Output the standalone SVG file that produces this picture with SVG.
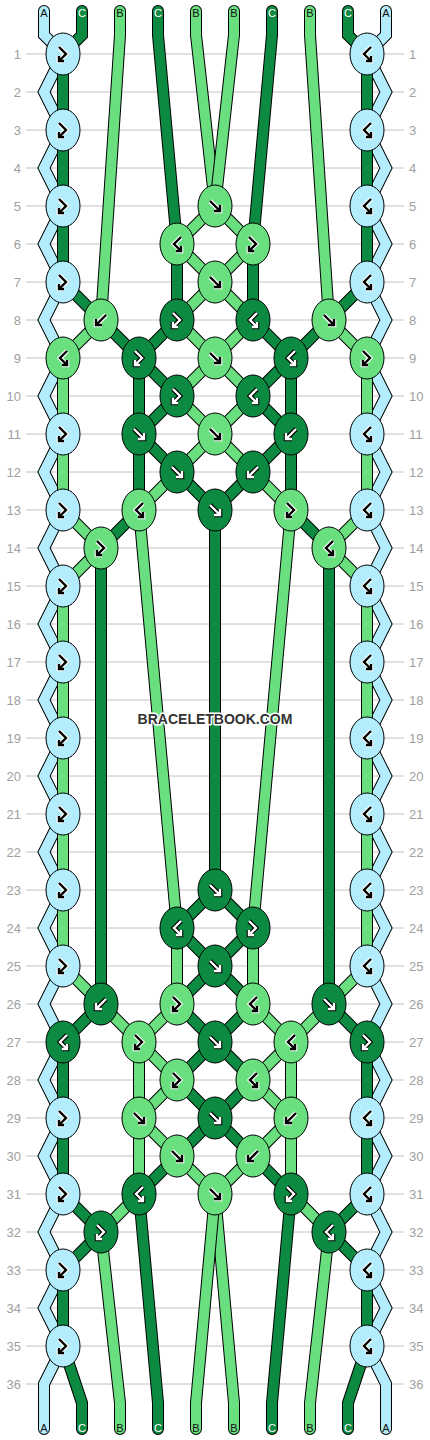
<svg xmlns="http://www.w3.org/2000/svg" width="430" height="1440" viewBox="0 0 430 1440">
<style>
.grid{stroke:#c2c2c2;stroke-width:1;fill:none}
.num{font-family:"Liberation Sans",Arial,sans-serif;font-size:13px;fill:#a0a0a0}
.nl{text-anchor:end}
.lab{font-family:"Liberation Sans",Arial,sans-serif;font-size:11px;text-anchor:middle}
.ld{fill:#111}.lw{fill:#fff}
.so{fill:none;stroke:#000;stroke-width:12;stroke-linecap:round;stroke-linejoin:miter}
.sc{fill:none;stroke-width:10;stroke-linecap:round;stroke-linejoin:miter}
.cA{stroke:#b3ecfc}.cB{stroke:#69df80}.cC{stroke:#0d8a42}
.kA{fill:#b3ecfc;stroke:#000;stroke-width:1}
.kB{fill:#69df80;stroke:#000;stroke-width:1}
.kC{fill:#0d8a42;stroke:#000;stroke-width:1}
.ow{fill:none;stroke:#fff;stroke-width:4.6;stroke-linejoin:miter}
.ob{fill:none;stroke:#000;stroke-width:4.6;stroke-linejoin:miter}
.ib{fill:none;stroke:#000;stroke-width:2.4;stroke-linejoin:miter}
.iw{fill:none;stroke:#fff;stroke-width:2.4;stroke-linejoin:miter}
.wm{font-family:"Liberation Sans",Arial,sans-serif;font-size:14px;font-weight:bold;fill:#333;text-anchor:middle;stroke:#fff;stroke-width:3;paint-order:stroke;stroke-linejoin:round}
</style>
<defs>
<path id="p-f" d="M-5,-5L5,5M-1,5H5V-1"/>
<path id="p-b" d="M5,-5L-5,5M1,5H-5V-1"/>
<path id="p-fb" d="M-4,-7L3,0L-4,7M1,7H-4V2"/>
<path id="p-bf" d="M4,-7L-3,0L4,7M-1,7H4V2"/>
<g id="k-f"><use href="#p-f" class="ow"/><use href="#p-f" class="ib"/></g>
<g id="k-b"><use href="#p-b" class="ow"/><use href="#p-b" class="ib"/></g>
<g id="k-fb"><use href="#p-fb" class="ow"/><use href="#p-fb" class="ib"/></g>
<g id="k-bf"><use href="#p-bf" class="ow"/><use href="#p-bf" class="ib"/></g>
<g id="w-f"><use href="#p-f" class="ob"/><use href="#p-f" class="iw"/></g>
<g id="w-b"><use href="#p-b" class="ob"/><use href="#p-b" class="iw"/></g>
<g id="w-fb"><use href="#p-fb" class="ob"/><use href="#p-fb" class="iw"/></g>
<g id="w-bf"><use href="#p-bf" class="ob"/><use href="#p-bf" class="iw"/></g>
</defs>
<rect width="430" height="1440" fill="#fff"/>
<g id="grid">
<path class="grid" d="M26,54H404M26,92H404M26,130H404M26,168H404M26,206H404M26,244H404M26,282H404M26,320H404M26,358H404M26,396H404M26,434H404M26,472H404M26,510H404M26,548H404M26,586H404M26,624H404M26,662H404M26,700H404M26,738H404M26,776H404M26,814H404M26,852H404M26,890H404M26,928H404M26,966H404M26,1004H404M26,1042H404M26,1080H404M26,1118H404M26,1156H404M26,1194H404M26,1232H404M26,1270H404M26,1308H404M26,1346H404M26,1384H404"/>
</g>
<g id="rownumbers-left" class="num nl">
<text x="21" y="58.5">1</text><text x="21" y="96.5">2</text><text x="21" y="134.5">3</text><text x="21" y="172.5">4</text><text x="21" y="210.5">5</text><text x="21" y="248.5">6</text><text x="21" y="286.5">7</text><text x="21" y="324.5">8</text><text x="21" y="362.5">9</text><text x="21" y="400.5">10</text><text x="21" y="438.5">11</text><text x="21" y="476.5">12</text><text x="21" y="514.5">13</text><text x="21" y="552.5">14</text><text x="21" y="590.5">15</text><text x="21" y="628.5">16</text><text x="21" y="666.5">17</text><text x="21" y="704.5">18</text><text x="21" y="742.5">19</text><text x="21" y="780.5">20</text><text x="21" y="818.5">21</text><text x="21" y="856.5">22</text><text x="21" y="894.5">23</text><text x="21" y="932.5">24</text><text x="21" y="970.5">25</text><text x="21" y="1008.5">26</text><text x="21" y="1046.5">27</text><text x="21" y="1084.5">28</text><text x="21" y="1122.5">29</text><text x="21" y="1160.5">30</text><text x="21" y="1198.5">31</text><text x="21" y="1236.5">32</text><text x="21" y="1274.5">33</text><text x="21" y="1312.5">34</text><text x="21" y="1350.5">35</text><text x="21" y="1388.5">36</text>
</g>
<g id="rownumbers-right" class="num">
<text x="409" y="58.5">1</text><text x="409" y="96.5">2</text><text x="409" y="134.5">3</text><text x="409" y="172.5">4</text><text x="409" y="210.5">5</text><text x="409" y="248.5">6</text><text x="409" y="286.5">7</text><text x="409" y="324.5">8</text><text x="409" y="362.5">9</text><text x="409" y="400.5">10</text><text x="409" y="438.5">11</text><text x="409" y="476.5">12</text><text x="409" y="514.5">13</text><text x="409" y="552.5">14</text><text x="409" y="590.5">15</text><text x="409" y="628.5">16</text><text x="409" y="666.5">17</text><text x="409" y="704.5">18</text><text x="409" y="742.5">19</text><text x="409" y="780.5">20</text><text x="409" y="818.5">21</text><text x="409" y="856.5">22</text><text x="409" y="894.5">23</text><text x="409" y="932.5">24</text><text x="409" y="970.5">25</text><text x="409" y="1008.5">26</text><text x="409" y="1046.5">27</text><text x="409" y="1084.5">28</text><text x="409" y="1122.5">29</text><text x="409" y="1160.5">30</text><text x="409" y="1198.5">31</text><text x="409" y="1236.5">32</text><text x="409" y="1274.5">33</text><text x="409" y="1312.5">34</text><text x="409" y="1350.5">35</text><text x="409" y="1388.5">36</text>
</g>
<g id="connectors">
<g id="s0"><polyline class="so" points="44,11 44,35 63,54 44,92 63,130 44,168 63,206 44,244 63,282 44,320 63,358 44,396 63,434 44,472 63,510 44,548 63,586 44,624 63,662 44,700 63,738 44,776 63,814 44,852 63,890 44,928 63,966 44,1004 63,1042 44,1080 63,1118 44,1156 63,1194 44,1232 63,1270 44,1308 63,1346 44,1384 44,1429"/><polyline class="sc cA" points="44,11 44,35 63,54 44,92 63,130 44,168 63,206 44,244 63,282 44,320 63,358 44,396 63,434 44,472 63,510 44,548 63,586 44,624 63,662 44,700 63,738 44,776 63,814 44,852 63,890 44,928 63,966 44,1004 63,1042 44,1080 63,1118 44,1156 63,1194 44,1232 63,1270 44,1308 63,1346 44,1384 44,1429"/></g>
<g id="s9"><polyline class="so" points="386,11 386,35 367,54 386,92 367,130 386,168 367,206 386,244 367,282 386,320 367,358 386,396 367,434 386,472 367,510 386,548 367,586 386,624 367,662 386,700 367,738 386,776 367,814 386,852 367,890 386,928 367,966 386,1004 367,1042 386,1080 367,1118 386,1156 367,1194 386,1232 367,1270 386,1308 367,1346 386,1384 386,1429"/><polyline class="sc cA" points="386,11 386,35 367,54 386,92 367,130 386,168 367,206 386,244 367,282 386,320 367,358 386,396 367,434 386,472 367,510 386,548 367,586 386,624 367,662 386,700 367,738 386,776 367,814 386,852 367,890 386,928 367,966 386,1004 367,1042 386,1080 367,1118 386,1156 367,1194 386,1232 367,1270 386,1308 367,1346 386,1384 386,1429"/></g>
<g id="s1"><polyline class="so" points="82,11 82,35 63,54 63,282 101,320 139,358 139,434 177,472 215,510 215,890 177,928 215,966 253,1004 215,1042 177,1080 215,1118 253,1156 291,1194 272,1403 272,1429"/><polyline class="sc cC" points="82,11 82,35 63,54 63,282 101,320 139,358 139,434 177,472 215,510 215,890 177,928 215,966 253,1004 215,1042 177,1080 215,1118 253,1156 291,1194 272,1403 272,1429"/></g>
<g id="s8"><polyline class="so" points="348,11 348,35 367,54 367,282 329,320 291,358 291,434 253,472 215,510 215,890 253,928 215,966 177,1004 215,1042 253,1080 215,1118 177,1156 139,1194 158,1403 158,1429"/><polyline class="sc cC" points="348,11 348,35 367,54 367,282 329,320 291,358 291,434 253,472 215,510 215,890 253,928 215,966 177,1004 215,1042 253,1080 215,1118 177,1156 139,1194 158,1403 158,1429"/></g>
<g id="s2"><polyline class="so" points="120,11 120,35 101,320 63,358 63,510 101,548 63,586 63,966 101,1004 139,1042 139,1118 177,1156 215,1194 234,1403 234,1429"/><polyline class="sc cB" points="120,11 120,35 101,320 63,358 63,510 101,548 63,586 63,966 101,1004 139,1042 139,1118 177,1156 215,1194 234,1403 234,1429"/></g>
<g id="s7"><polyline class="so" points="310,11 310,35 329,320 367,358 367,510 329,548 367,586 367,966 329,1004 291,1042 291,1118 253,1156 215,1194 196,1403 196,1429"/><polyline class="sc cB" points="310,11 310,35 329,320 367,358 367,510 329,548 367,586 367,966 329,1004 291,1042 291,1118 253,1156 215,1194 196,1403 196,1429"/></g>
<g id="s3"><polyline class="so" points="158,11 158,35 177,244 177,320 139,358 177,396 139,434 139,510 101,548 101,1004 63,1042 63,1194 101,1232 63,1270 63,1346 82,1403 82,1429"/><polyline class="sc cC" points="158,11 158,35 177,244 177,320 139,358 177,396 139,434 139,510 101,548 101,1004 63,1042 63,1194 101,1232 63,1270 63,1346 82,1403 82,1429"/></g>
<g id="s6"><polyline class="so" points="272,11 272,35 253,244 253,320 291,358 253,396 291,434 291,510 329,548 329,1004 367,1042 367,1194 329,1232 367,1270 367,1346 348,1403 348,1429"/><polyline class="sc cC" points="272,11 272,35 253,244 253,320 291,358 253,396 291,434 291,510 329,548 329,1004 367,1042 367,1194 329,1232 367,1270 367,1346 348,1403 348,1429"/></g>
<g id="s4"><polyline class="so" points="196,11 196,35 215,206 253,244 215,282 177,320 215,358 253,396 215,434 177,472 139,510 177,928 177,1004 139,1042 177,1080 139,1118 139,1194 101,1232 120,1403 120,1429"/><polyline class="sc cB" points="196,11 196,35 215,206 253,244 215,282 177,320 215,358 253,396 215,434 177,472 139,510 177,928 177,1004 139,1042 177,1080 139,1118 139,1194 101,1232 120,1403 120,1429"/></g>
<g id="s5"><polyline class="so" points="234,11 234,35 215,206 177,244 215,282 253,320 215,358 177,396 215,434 253,472 291,510 253,928 253,1004 291,1042 253,1080 291,1118 291,1194 329,1232 310,1403 310,1429"/><polyline class="sc cB" points="234,11 234,35 215,206 177,244 215,282 253,320 215,358 177,396 215,434 253,472 291,510 253,928 253,1004 291,1042 253,1080 291,1118 291,1194 329,1232 310,1403 310,1429"/></g>
</g>
<g id="labels-top">
<text class="lab ld" x="44" y="17">A</text><text class="lab lw" x="82" y="17">C</text><text class="lab ld" x="120" y="17">B</text><text class="lab lw" x="158" y="17">C</text><text class="lab ld" x="196" y="17">B</text><text class="lab ld" x="234" y="17">B</text><text class="lab lw" x="272" y="17">C</text><text class="lab ld" x="310" y="17">B</text><text class="lab lw" x="348" y="17">C</text><text class="lab ld" x="386" y="17">A</text>
</g>
<g id="labels-bottom">
<text class="lab ld" x="44" y="1432">A</text><text class="lab lw" x="82" y="1432">C</text><text class="lab ld" x="120" y="1432">B</text><text class="lab lw" x="158" y="1432">C</text><text class="lab ld" x="196" y="1432">B</text><text class="lab ld" x="234" y="1432">B</text><text class="lab lw" x="272" y="1432">C</text><text class="lab ld" x="310" y="1432">B</text><text class="lab lw" x="348" y="1432">C</text><text class="lab ld" x="386" y="1432">A</text>
</g>
<g id="knots">
<g id="k1-0" transform="translate(63,54)"><ellipse class="kA" rx="17" ry="21"/><use href="#k-fb"/></g>
<g id="k1-4" transform="translate(367,54)"><ellipse class="kA" rx="17" ry="21"/><use href="#k-bf"/></g>
<g id="k3-0" transform="translate(63,130)"><ellipse class="kA" rx="17" ry="21"/><use href="#k-fb"/></g>
<g id="k3-4" transform="translate(367,130)"><ellipse class="kA" rx="17" ry="21"/><use href="#k-bf"/></g>
<g id="k5-0" transform="translate(63,206)"><ellipse class="kA" rx="17" ry="21"/><use href="#k-fb"/></g>
<g id="k5-2" transform="translate(215,206)"><ellipse class="kB" rx="17" ry="21"/><use href="#k-f"/></g>
<g id="k5-4" transform="translate(367,206)"><ellipse class="kA" rx="17" ry="21"/><use href="#k-bf"/></g>
<g id="k6-1" transform="translate(177,244)"><ellipse class="kB" rx="17" ry="21"/><use href="#k-bf"/></g>
<g id="k6-2" transform="translate(253,244)"><ellipse class="kB" rx="17" ry="21"/><use href="#k-fb"/></g>
<g id="k7-0" transform="translate(63,282)"><ellipse class="kA" rx="17" ry="21"/><use href="#k-fb"/></g>
<g id="k7-2" transform="translate(215,282)"><ellipse class="kB" rx="17" ry="21"/><use href="#k-f"/></g>
<g id="k7-4" transform="translate(367,282)"><ellipse class="kA" rx="17" ry="21"/><use href="#k-bf"/></g>
<g id="k8-0" transform="translate(101,320)"><ellipse class="kB" rx="17" ry="21"/><use href="#k-b"/></g>
<g id="k8-1" transform="translate(177,320)"><ellipse class="kC" rx="17" ry="21"/><use href="#w-fb"/></g>
<g id="k8-2" transform="translate(253,320)"><ellipse class="kC" rx="17" ry="21"/><use href="#w-bf"/></g>
<g id="k8-3" transform="translate(329,320)"><ellipse class="kB" rx="17" ry="21"/><use href="#k-f"/></g>
<g id="k9-0" transform="translate(63,358)"><ellipse class="kB" rx="17" ry="21"/><use href="#k-bf"/></g>
<g id="k9-1" transform="translate(139,358)"><ellipse class="kC" rx="17" ry="21"/><use href="#w-fb"/></g>
<g id="k9-2" transform="translate(215,358)"><ellipse class="kB" rx="17" ry="21"/><use href="#k-f"/></g>
<g id="k9-3" transform="translate(291,358)"><ellipse class="kC" rx="17" ry="21"/><use href="#w-bf"/></g>
<g id="k9-4" transform="translate(367,358)"><ellipse class="kB" rx="17" ry="21"/><use href="#k-fb"/></g>
<g id="k10-1" transform="translate(177,396)"><ellipse class="kC" rx="17" ry="21"/><use href="#w-fb"/></g>
<g id="k10-2" transform="translate(253,396)"><ellipse class="kC" rx="17" ry="21"/><use href="#w-bf"/></g>
<g id="k11-0" transform="translate(63,434)"><ellipse class="kA" rx="17" ry="21"/><use href="#k-fb"/></g>
<g id="k11-1" transform="translate(139,434)"><ellipse class="kC" rx="17" ry="21"/><use href="#w-f"/></g>
<g id="k11-2" transform="translate(215,434)"><ellipse class="kB" rx="17" ry="21"/><use href="#k-f"/></g>
<g id="k11-3" transform="translate(291,434)"><ellipse class="kC" rx="17" ry="21"/><use href="#w-b"/></g>
<g id="k11-4" transform="translate(367,434)"><ellipse class="kA" rx="17" ry="21"/><use href="#k-bf"/></g>
<g id="k12-1" transform="translate(177,472)"><ellipse class="kC" rx="17" ry="21"/><use href="#w-f"/></g>
<g id="k12-2" transform="translate(253,472)"><ellipse class="kC" rx="17" ry="21"/><use href="#w-b"/></g>
<g id="k13-0" transform="translate(63,510)"><ellipse class="kA" rx="17" ry="21"/><use href="#k-fb"/></g>
<g id="k13-1" transform="translate(139,510)"><ellipse class="kB" rx="17" ry="21"/><use href="#k-bf"/></g>
<g id="k13-2" transform="translate(215,510)"><ellipse class="kC" rx="17" ry="21"/><use href="#w-f"/></g>
<g id="k13-3" transform="translate(291,510)"><ellipse class="kB" rx="17" ry="21"/><use href="#k-fb"/></g>
<g id="k13-4" transform="translate(367,510)"><ellipse class="kA" rx="17" ry="21"/><use href="#k-bf"/></g>
<g id="k14-0" transform="translate(101,548)"><ellipse class="kB" rx="17" ry="21"/><use href="#k-fb"/></g>
<g id="k14-3" transform="translate(329,548)"><ellipse class="kB" rx="17" ry="21"/><use href="#k-bf"/></g>
<g id="k15-0" transform="translate(63,586)"><ellipse class="kA" rx="17" ry="21"/><use href="#k-fb"/></g>
<g id="k15-4" transform="translate(367,586)"><ellipse class="kA" rx="17" ry="21"/><use href="#k-bf"/></g>
<g id="k17-0" transform="translate(63,662)"><ellipse class="kA" rx="17" ry="21"/><use href="#k-fb"/></g>
<g id="k17-4" transform="translate(367,662)"><ellipse class="kA" rx="17" ry="21"/><use href="#k-bf"/></g>
<g id="k19-0" transform="translate(63,738)"><ellipse class="kA" rx="17" ry="21"/><use href="#k-fb"/></g>
<g id="k19-4" transform="translate(367,738)"><ellipse class="kA" rx="17" ry="21"/><use href="#k-bf"/></g>
<g id="k21-0" transform="translate(63,814)"><ellipse class="kA" rx="17" ry="21"/><use href="#k-fb"/></g>
<g id="k21-4" transform="translate(367,814)"><ellipse class="kA" rx="17" ry="21"/><use href="#k-bf"/></g>
<g id="k23-0" transform="translate(63,890)"><ellipse class="kA" rx="17" ry="21"/><use href="#k-fb"/></g>
<g id="k23-2" transform="translate(215,890)"><ellipse class="kC" rx="17" ry="21"/><use href="#w-f"/></g>
<g id="k23-4" transform="translate(367,890)"><ellipse class="kA" rx="17" ry="21"/><use href="#k-bf"/></g>
<g id="k24-1" transform="translate(177,928)"><ellipse class="kC" rx="17" ry="21"/><use href="#w-bf"/></g>
<g id="k24-2" transform="translate(253,928)"><ellipse class="kC" rx="17" ry="21"/><use href="#w-fb"/></g>
<g id="k25-0" transform="translate(63,966)"><ellipse class="kA" rx="17" ry="21"/><use href="#k-fb"/></g>
<g id="k25-2" transform="translate(215,966)"><ellipse class="kC" rx="17" ry="21"/><use href="#w-f"/></g>
<g id="k25-4" transform="translate(367,966)"><ellipse class="kA" rx="17" ry="21"/><use href="#k-bf"/></g>
<g id="k26-0" transform="translate(101,1004)"><ellipse class="kC" rx="17" ry="21"/><use href="#w-b"/></g>
<g id="k26-1" transform="translate(177,1004)"><ellipse class="kB" rx="17" ry="21"/><use href="#k-fb"/></g>
<g id="k26-2" transform="translate(253,1004)"><ellipse class="kB" rx="17" ry="21"/><use href="#k-bf"/></g>
<g id="k26-3" transform="translate(329,1004)"><ellipse class="kC" rx="17" ry="21"/><use href="#w-f"/></g>
<g id="k27-0" transform="translate(63,1042)"><ellipse class="kC" rx="17" ry="21"/><use href="#w-bf"/></g>
<g id="k27-1" transform="translate(139,1042)"><ellipse class="kB" rx="17" ry="21"/><use href="#k-fb"/></g>
<g id="k27-2" transform="translate(215,1042)"><ellipse class="kC" rx="17" ry="21"/><use href="#w-f"/></g>
<g id="k27-3" transform="translate(291,1042)"><ellipse class="kB" rx="17" ry="21"/><use href="#k-bf"/></g>
<g id="k27-4" transform="translate(367,1042)"><ellipse class="kC" rx="17" ry="21"/><use href="#w-fb"/></g>
<g id="k28-1" transform="translate(177,1080)"><ellipse class="kB" rx="17" ry="21"/><use href="#k-fb"/></g>
<g id="k28-2" transform="translate(253,1080)"><ellipse class="kB" rx="17" ry="21"/><use href="#k-bf"/></g>
<g id="k29-0" transform="translate(63,1118)"><ellipse class="kA" rx="17" ry="21"/><use href="#k-fb"/></g>
<g id="k29-1" transform="translate(139,1118)"><ellipse class="kB" rx="17" ry="21"/><use href="#k-f"/></g>
<g id="k29-2" transform="translate(215,1118)"><ellipse class="kC" rx="17" ry="21"/><use href="#w-f"/></g>
<g id="k29-3" transform="translate(291,1118)"><ellipse class="kB" rx="17" ry="21"/><use href="#k-b"/></g>
<g id="k29-4" transform="translate(367,1118)"><ellipse class="kA" rx="17" ry="21"/><use href="#k-bf"/></g>
<g id="k30-1" transform="translate(177,1156)"><ellipse class="kB" rx="17" ry="21"/><use href="#k-f"/></g>
<g id="k30-2" transform="translate(253,1156)"><ellipse class="kB" rx="17" ry="21"/><use href="#k-b"/></g>
<g id="k31-0" transform="translate(63,1194)"><ellipse class="kA" rx="17" ry="21"/><use href="#k-fb"/></g>
<g id="k31-1" transform="translate(139,1194)"><ellipse class="kC" rx="17" ry="21"/><use href="#w-bf"/></g>
<g id="k31-2" transform="translate(215,1194)"><ellipse class="kB" rx="17" ry="21"/><use href="#k-f"/></g>
<g id="k31-3" transform="translate(291,1194)"><ellipse class="kC" rx="17" ry="21"/><use href="#w-fb"/></g>
<g id="k31-4" transform="translate(367,1194)"><ellipse class="kA" rx="17" ry="21"/><use href="#k-bf"/></g>
<g id="k32-0" transform="translate(101,1232)"><ellipse class="kC" rx="17" ry="21"/><use href="#w-fb"/></g>
<g id="k32-3" transform="translate(329,1232)"><ellipse class="kC" rx="17" ry="21"/><use href="#w-bf"/></g>
<g id="k33-0" transform="translate(63,1270)"><ellipse class="kA" rx="17" ry="21"/><use href="#k-fb"/></g>
<g id="k33-4" transform="translate(367,1270)"><ellipse class="kA" rx="17" ry="21"/><use href="#k-bf"/></g>
<g id="k35-0" transform="translate(63,1346)"><ellipse class="kA" rx="17" ry="21"/><use href="#k-fb"/></g>
<g id="k35-4" transform="translate(367,1346)"><ellipse class="kA" rx="17" ry="21"/><use href="#k-bf"/></g>
</g>
<g id="watermark"><text class="wm" x="215" y="724">BRACELETBOOK.COM</text></g>
</svg>
